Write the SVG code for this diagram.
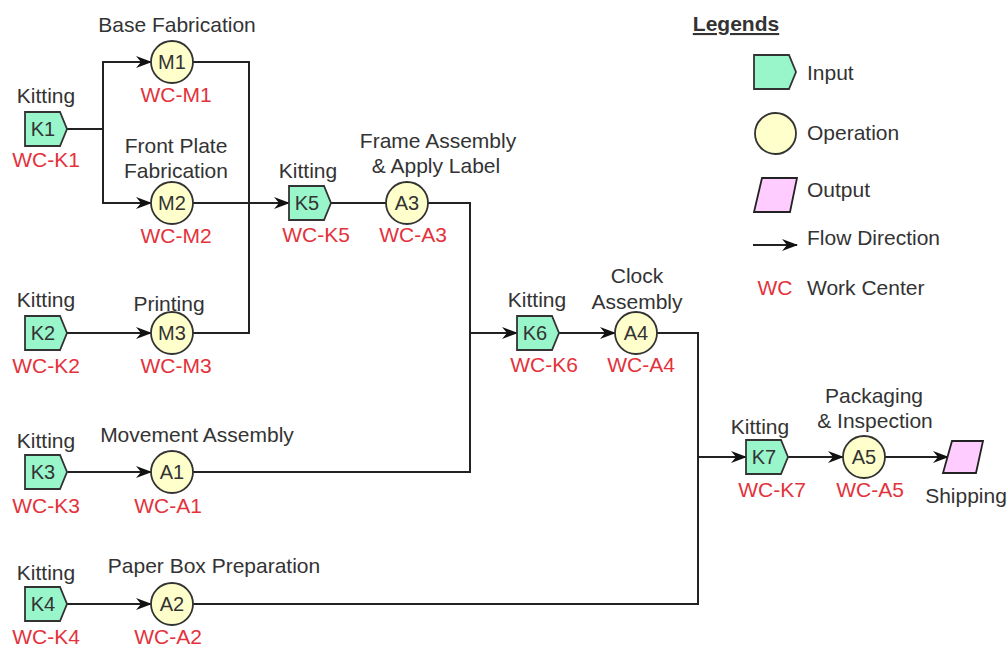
<svg xmlns="http://www.w3.org/2000/svg" width="1008" height="646" viewBox="0 0 1008 646">
<style>
text{font-family:"Liberation Sans",Arial,sans-serif;font-size:21px;fill:#333;text-anchor:middle}
.wc{fill:#E3323B}
.in{font-size:20px}
.lg{text-anchor:start}
.kit{fill:#99F5CA;stroke:#333;stroke-width:1.8}
.op{fill:#FFFFCC;stroke:#333;stroke-width:1.8}
.out{fill:#FFCCFF;stroke:#222;stroke-width:1.8}
.c{fill:none;stroke:#222;stroke-width:2}
.a{marker-end:url(#arr)}
</style>
<defs>
<marker id="arr" viewBox="0 0 16 12" refX="15" refY="6" markerWidth="16" markerHeight="12" markerUnits="userSpaceOnUse" orient="auto">
<path d="M0,0 L16,6 L0,12 L5,6 Z" fill="#111"/>
</marker>
<polygon id="pent" points="0,0 35,0 42,17 35,34 0,34"/>
</defs>
<rect width="1008" height="646" fill="#fff"/>

<g id="connectors">
<path class="c a" d="M67,129 H103 V62 H151"/>
<path class="c a" d="M103,129 V203 H151"/>
<path class="c" d="M193,62 H249 V203"/>
<path class="c" d="M193,333 H249 V203"/>
<path class="c a" d="M193,203 H289"/>
<path class="c" d="M331,203 H386"/>
<path class="c a" d="M67,333 H151"/>
<path class="c" d="M428,203 H470 V333"/>
<path class="c a" d="M67,472 H151"/>
<path class="c" d="M193,472 H470 V333"/>
<path class="c a" d="M470,333 H517"/>
<path class="c a" d="M559,333 H615"/>
<path class="c" d="M657,333 H698 V457"/>
<path class="c a" d="M67,604 H151"/>
<path class="c" d="M193,604 H698 V457"/>
<path class="c a" d="M698,457 H746"/>
<path class="c a" d="M788,457 H843"/>
<path class="c a" d="M885,457 H948"/>
</g>

<g id="K1"><use href="#pent" class="kit" x="25" y="112"/><text class="in" x="43" y="136">K1</text><text x="46" y="103">Kitting</text><text class="wc" x="46" y="167">WC-K1</text></g>
<g id="K2"><use href="#pent" class="kit" x="25" y="316"/><text class="in" x="43" y="340">K2</text><text x="46" y="307">Kitting</text><text class="wc" x="46" y="373">WC-K2</text></g>
<g id="K3"><use href="#pent" class="kit" x="25" y="455"/><text class="in" x="43" y="479">K3</text><text x="46" y="448">Kitting</text><text class="wc" x="46" y="513">WC-K3</text></g>
<g id="K4"><use href="#pent" class="kit" x="25" y="587"/><text class="in" x="43" y="611">K4</text><text x="46" y="580">Kitting</text><text class="wc" x="46" y="644">WC-K4</text></g>

<g id="M1"><circle class="op" cx="172" cy="62" r="21"/><text class="in" x="172" y="69">M1</text><text x="177" y="32">Base Fabrication</text><text class="wc" x="176" y="102">WC-M1</text></g>
<g id="M2"><circle class="op" cx="172" cy="203" r="21"/><text class="in" x="172" y="210">M2</text><text x="176" y="153">Front Plate</text><text x="176" y="178">Fabrication</text><text class="wc" x="176" y="243">WC-M2</text></g>
<g id="M3"><circle class="op" cx="172" cy="333" r="21"/><text class="in" x="172" y="340">M3</text><text x="169" y="311">Printing</text><text class="wc" x="176" y="373">WC-M3</text></g>
<g id="A1"><circle class="op" cx="172" cy="472" r="21"/><text class="in" x="172" y="479">A1</text><text x="197" y="442">Movement Assembly</text><text class="wc" x="168" y="513">WC-A1</text></g>
<g id="A2"><circle class="op" cx="172" cy="604" r="21"/><text class="in" x="172" y="611">A2</text><text x="214" y="573">Paper Box Preparation</text><text class="wc" x="168" y="644">WC-A2</text></g>

<g id="K5"><use href="#pent" class="kit" x="289" y="186"/><text class="in" x="307" y="210">K5</text><text x="308" y="178">Kitting</text><text class="wc" x="316" y="242">WC-K5</text></g>
<g id="A3"><circle class="op" cx="407" cy="203" r="21"/><text class="in" x="407" y="210">A3</text><text x="438" y="148">Frame Assembly</text><text x="436" y="173">&amp; Apply Label</text><text class="wc" x="413" y="242">WC-A3</text></g>

<g id="K6"><use href="#pent" class="kit" x="517" y="316"/><text class="in" x="535" y="340">K6</text><text x="537" y="307">Kitting</text><text class="wc" x="544" y="372">WC-K6</text></g>
<g id="A4"><circle class="op" cx="636" cy="333" r="21"/><text class="in" x="636" y="340">A4</text><text x="637" y="283">Clock</text><text x="637" y="309">Assembly</text><text class="wc" x="641" y="372">WC-A4</text></g>

<g id="K7"><use href="#pent" class="kit" x="746" y="440"/><text class="in" x="764" y="464">K7</text><text x="760" y="434">Kitting</text><text class="wc" x="772" y="497">WC-K7</text></g>
<g id="A5"><circle class="op" cx="864" cy="457" r="21"/><text class="in" x="864" y="464">A5</text><text x="874" y="403">Packaging</text><text x="875" y="428">&amp; Inspection</text><text class="wc" x="870" y="497">WC-A5</text></g>

<g id="Shipping"><polygon class="out" points="952,441 983,441 976,473 943,473"/><text x="966" y="503">Shipping</text></g>

<g id="legend">
<text x="736" y="31" style="font-weight:bold;text-decoration:underline">Legends</text>
<use href="#pent" class="kit" x="754" y="55"/>
<text class="lg" x="807" y="80">Input</text>
<circle class="op" cx="775.5" cy="133.5" r="20.5"/>
<text class="lg" x="807" y="140">Operation</text>
<polygon class="out" points="762,178 797,178 790,212 754,212"/>
<text class="lg" x="807" y="197">Output</text>
<path class="c a" d="M753,245 H797"/>
<text class="lg" x="807" y="245">Flow Direction</text>
<text class="wc" x="775" y="295">WC</text>
<text class="lg" x="807" y="295">Work Center</text>
</g>
</svg>
